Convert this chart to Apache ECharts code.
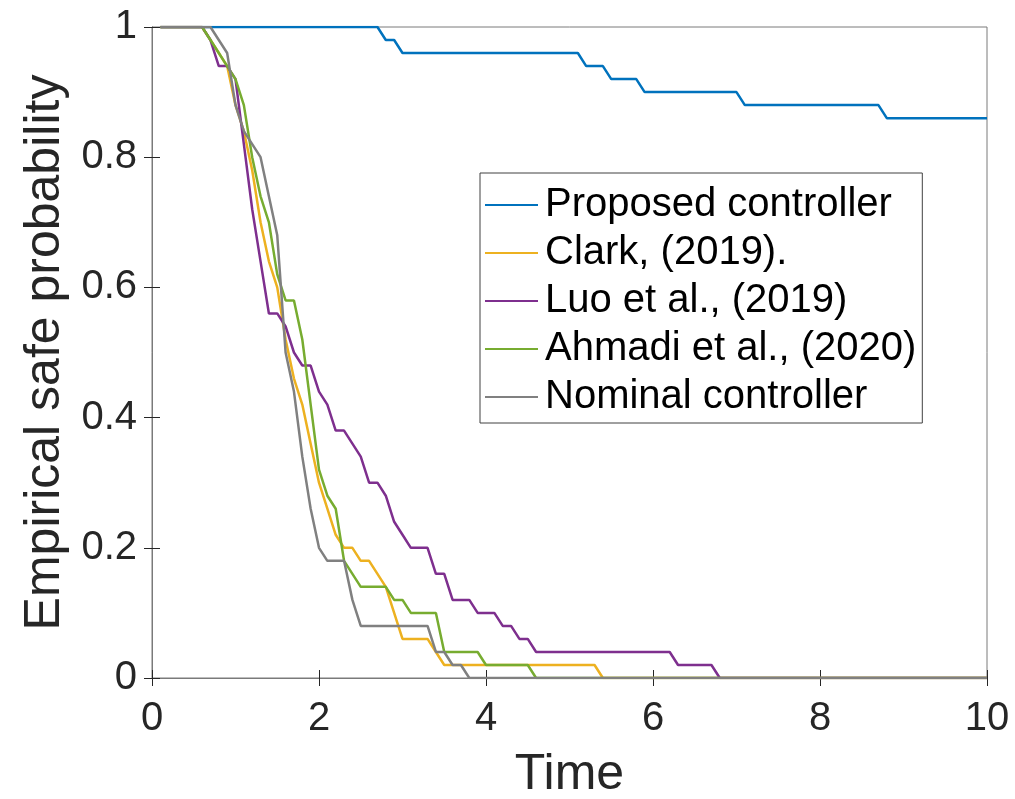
<!DOCTYPE html>
<html>
<head>
<meta charset="utf-8">
<script src="https://cdn.jsdelivr.net/npm/echarts@6/dist/echarts.min.js"></script>
<style>
  html, body { margin: 0; padding: 0; background: #fff; }
  #chart { width: 1015px; height: 799px; }
</style>
</head>
<body>
<div id="chart"></div>
<script>
  // [time, empirical safe probability]
  const proposed = [[0.1,1],[2.7,1],[2.8,0.98],[2.9,0.98],[3.0,0.96],[5.1,0.96],[5.2,0.94],[5.4,0.94],[5.5,0.92],
    [5.8,0.92],[5.9,0.90],[7.0,0.90],[7.1,0.88],[8.7,0.88],[8.8,0.86],[10,0.86]]
  const clark = [[0.1,1],[0.6,1],[0.7,0.98],[0.8,0.96],[0.9,0.94],[1.0,0.88],[1.1,0.84],[1.2,0.78],[1.3,0.70],
    [1.4,0.64],[1.5,0.60],[1.6,0.52],[1.7,0.46],[1.8,0.42],[1.9,0.36],[2.0,0.30],[2.1,0.26],[2.2,0.22],[2.3,0.20],
    [2.4,0.20],[2.5,0.18],[2.6,0.18],[2.7,0.16],[2.8,0.14],[2.9,0.10],[3.0,0.06],[3.3,0.06],[3.4,0.04],[3.5,0.02],
    [5.3,0.02],[5.4,0],[10,0]]
  const luo = [[0.1,1],[0.6,1],[0.7,0.98],[0.8,0.94],[0.9,0.94],[1.0,0.92],[1.1,0.82],[1.2,0.72],[1.3,0.64],
    [1.4,0.56],[1.5,0.56],[1.6,0.54],[1.7,0.50],[1.8,0.48],[1.9,0.48],[2.0,0.44],[2.1,0.42],[2.2,0.38],[2.3,0.38],
    [2.4,0.36],[2.5,0.34],[2.6,0.30],[2.7,0.30],[2.8,0.28],[2.9,0.24],[3.0,0.22],[3.1,0.20],[3.3,0.20],[3.4,0.16],
    [3.5,0.16],[3.6,0.12],[3.8,0.12],[3.9,0.10],[4.1,0.10],[4.2,0.08],[4.3,0.08],[4.4,0.06],[4.5,0.06],[4.6,0.04],
    [6.2,0.04],[6.3,0.02],[6.7,0.02],[6.8,0],[10,0]]
  const ahmadi = [[0.1,1],[0.6,1],[0.7,0.98],[0.8,0.96],[0.9,0.94],[1.0,0.92],[1.1,0.88],[1.2,0.80],[1.3,0.74],
    [1.4,0.70],[1.5,0.62],[1.6,0.58],[1.7,0.58],[1.8,0.52],[1.9,0.42],[2.0,0.32],[2.1,0.28],[2.2,0.26],[2.3,0.18],
    [2.4,0.16],[2.5,0.14],[2.8,0.14],[2.9,0.12],[3.0,0.12],[3.1,0.10],[3.4,0.10],[3.5,0.04],[3.9,0.04],[4.0,0.02],
    [4.5,0.02],[4.6,0],[10,0]]
  const nominal = [[0.1,1],[0.7,1],[0.8,0.98],[0.9,0.96],[1.0,0.88],[1.1,0.84],[1.2,0.82],[1.3,0.80],[1.4,0.74],
    [1.5,0.68],[1.6,0.50],[1.7,0.44],[1.8,0.34],[1.9,0.26],[2.0,0.20],[2.1,0.18],[2.3,0.18],[2.4,0.12],[2.5,0.08],
    [3.3,0.08],[3.4,0.04],[3.5,0.04],[3.6,0.02],[3.7,0.02],[3.8,0],[10,0]]

  const names = ['Proposed controller', 'Clark, (2019).', 'Luo et al., (2019)', 'Ahmadi et al., (2020)', 'Nominal controller']
  const colors = ['#0072BD', '#EDB120', '#7E2F8E', '#77AC30', '#808080']
  const allData = [proposed, clark, luo, ahmadi, nominal]

  const font = 'Liberation Sans, Arial, Helvetica, sans-serif'
  const lineCol = '#7a7a7a'
  const tickCol = '#262626'

  let chart = echarts.init(document.getElementById('chart'))
  chart.setOption({
    animation: false,
    textStyle: { fontFamily: font },
    grid: {
      left: 152, right: 28, top: 27, bottom: 121,
      outerBoundsMode: 'none',
      show: true, borderColor: lineCol, borderWidth: 1
    },
    legend: {
      orient: 'vertical',
      left: 480, top: 173,
      data: names,
      icon: 'rect',
      itemWidth: 53, itemHeight: 2, itemGap: 8,
      padding: [12, 6, 6, 5],
      borderColor: '#404040', borderWidth: 1,
      backgroundColor: '#fff',
      textStyle: { fontSize: 40, color: '#000', fontFamily: font, padding: [0, 0, 0, 2] }
    },
    xAxis: [
      {
        type: 'value', min: 0, max: 10, interval: 2,
        name: 'Time', nameLocation: 'middle', nameGap: 72,
        nameTextStyle: { fontSize: 50, color: '#262626', fontFamily: font },
        axisLine: { show: true, onZero: false, lineStyle: { color: lineCol } },
        axisTick: { inside: true, length: 8, lineStyle: { color: tickCol } },
        axisLabel: { fontSize: 40, color: '#262626', margin: 21 },
        splitLine: { show: false }
      },
      {
        type: 'value', min: 0, max: 10, interval: 2, position: 'top',
        axisLine: { show: true, lineStyle: { color: lineCol } },
        axisTick: { inside: true, length: 8, lineStyle: { color: tickCol } },
        axisLabel: { show: false },
        splitLine: { show: false }
      }
    ],
    yAxis: [
      {
        type: 'value', min: 0, max: 1, interval: 0.2,
        name: 'Empirical safe probability', nameLocation: 'middle', nameGap: 78,
        nameTextStyle: { fontSize: 50, color: '#262626', fontFamily: font },
        axisLine: { show: true, lineStyle: { color: lineCol } },
        axisTick: { inside: true, length: 8, lineStyle: { color: tickCol } },
        axisLabel: { fontSize: 40, color: '#262626', margin: 15,
          formatter: v => String(Math.round(v * 10) / 10) },
        splitLine: { show: false }
      },
      {
        type: 'value', min: 0, max: 1, interval: 0.2, position: 'right',
        axisLine: { show: true, lineStyle: { color: lineCol } },
        axisTick: { inside: true, length: 8, lineStyle: { color: tickCol } },
        axisLabel: { show: false },
        splitLine: { show: false }
      }
    ],
    series: allData.map((d, i) => ({
      name: names[i],
      type: 'line',
      data: d,
      showSymbol: false,
      symbol: 'none',
      color: colors[i],
      lineStyle: { width: 2.5, color: colors[i] }
    }))
  })
</script>
</body>
</html>
